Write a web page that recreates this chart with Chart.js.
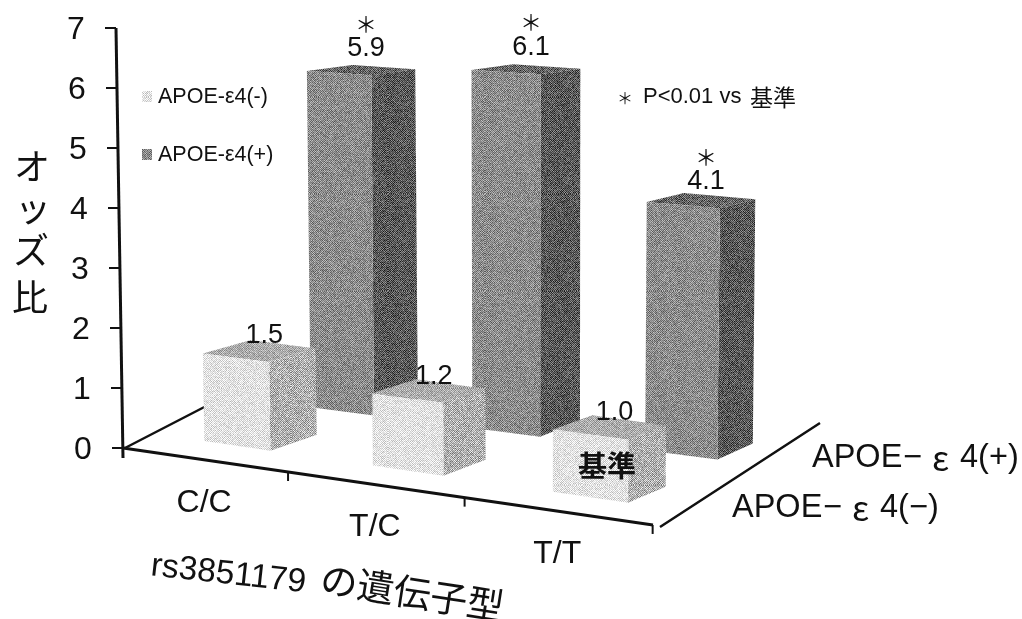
<!DOCTYPE html>
<html>
<head>
<meta charset="utf-8">
<title>rs3851179</title>
<style>
  html, body { margin: 0; padding: 0; background: #fff; }
  canvas { display: block; }
</style>
<script src="https://cdn.jsdelivr.net/npm/chart.js@4"></script>
</head>
<body>
<canvas id="chart" width="1022" height="619"></canvas>
<script>
const categories = ['C/C', 'T/C', 'T/T'];
const negValues = [1.5, 1.2, 1.0];
const posValues = [5.9, 6.1, 4.1];
const negStars = [false, false, false];
const posStars = [true, true, true];
const negLabel = 'APOE-ε4(-)';
const posLabel = 'APOE-ε4(+)';
const yTitle = ['オ', 'ッ', 'ズ', '比'];

const SANS = '"Liberation Sans", Arial, sans-serif';
const JP = '"Noto Sans CJK JP", sans-serif';

// speckled fill, close to the halftone of the scan
function speckle(ctx, base, amp) {
  const c = document.createElement('canvas');
  c.width = c.height = 97;
  const g = c.getContext('2d');
  const img = g.createImageData(97, 97);
  for (let y = 0; y < 97; y++) {
    for (let x = 0; x < 97; x++) {
      const h = Math.sin(x * 12.9898 + y * 78.233) * 43758.5453;
      const n = h - Math.floor(h);
      const v = base + ((x + y) % 2 ? -amp / 2 : amp / 2) + (n - 0.5) * amp;
      const i = (y * 97 + x) * 4;
      img.data[i] = img.data[i + 1] = img.data[i + 2] = Math.max(0, Math.min(255, v));
      img.data[i + 3] = 255;
    }
  }
  g.putImageData(img, 0, 0);
  return ctx.createPattern(c, 'repeat');
}

// the floor is in perspective: ticks get wider to the right
function warpX(px, area) {
  const t = (px - area.left) / area.width * 3;
  return area.left + 159.3 * t + 5.75 * t * t;
}
function axisY(sx, area) {
  return area.bottom + (sx - area.left) * 0.1453;
}
function floorPoint(sx, row, area) {
  if (row === 0) {
    const fx = sx + 33;
    return { x: fx, y: axisY(fx, area) - 18.7 };
  }
  const x = sx + 138 - (sx - 204) * 0.04;
  return { x: x, y: axisY(x, area) - 68 - (x - 314) * 0.017 };
}

function quad(ctx, pts, fill) {
  ctx.beginPath();
  pts.forEach((p, i) => i ? ctx.lineTo(p.x, p.y) : ctx.moveTo(p.x, p.y));
  ctx.closePath();
  ctx.fillStyle = fill;
  ctx.fill();
}

function text(ctx, str, x, y, font, align) {
  ctx.font = font;
  ctx.textAlign = align || 'center';
  ctx.textBaseline = 'middle';
  ctx.fillStyle = '#111';
  ctx.fillText(str, x, y);
}

// the big series names, the epsilon is wider than in the Latin font
function seriesName(ctx, x, y, tail) {
  text(ctx, 'APOE', x, y, '32.5px ' + SANS, 'left');
  text(ctx, '−', x + 91, y, '32.5px ' + SANS, 'left');
  text(ctx, 'ε', x + 120, y, '34px ' + JP, 'left');
  text(ctx, tail, x + 148, y, '32.5px ' + SANS, 'left');
}

const bars3d = {
  id: 'bars3d',
  afterDatasetsDraw(chart) {
    const ctx = chart.ctx;
    const area = chart.chartArea;
    const yScale = chart.scales.y;
    const xScale = chart.scales.x;
    const fills = [
      { front: speckle(ctx, 226, 44), side: speckle(ctx, 176, 70), top: speckle(ctx, 172, 50) },
      { front: speckle(ctx, 140, 60), side: speckle(ctx, 88, 70), top: speckle(ctx, 100, 70) }
    ];
    const labels = [];

    ctx.save();
    // floor lines behind the bars
    ctx.strokeStyle = '#111';
    ctx.lineWidth = 2.5;
    ctx.beginPath();
    ctx.moveTo(area.left + 2, area.bottom);
    ctx.lineTo(305, 355);
    ctx.moveTo(660, 527);
    ctx.lineTo(820, 423);
    ctx.stroke();

    // back row first, then the front row on top of it
    [1, 0].forEach(row => {
      chart.getDatasetMeta(row).data.forEach((el, i) => {
        const h = el.base - el.y;
        const x0 = warpX(el.x - el.width / 2, area);
        const x1 = warpX(el.x + el.width / 2, area);
        const v = row ? 0.6 : 0.15;
        const corner = sx => {
          const p = floorPoint(sx, row, area);
          const u = (p.x - area.left) / area.width;
          const up = h * (58.5 + 5.6 * u - 5.8 * v) / 60;
          const lean = h / 60 * (1.6 * u - 1.2);
          const dx = 50 - 13 * u;
          return {
            b: p,
            t: { x: p.x + lean, y: p.y - up },
            bb: { x: p.x + dx, y: p.y - 16 },
            tb: { x: p.x + lean + dx, y: p.y - up - 16 + 1.7 * h / 60 }
          };
        };
        const l = corner(x0);
        const r = corner(x1);
        quad(ctx, [l.t, r.t, r.tb, l.tb], fills[row].top);
        quad(ctx, [r.b, r.bb, r.tb, r.t], fills[row].side);
        quad(ctx, [l.b, r.b, r.t, l.t], fills[row].front);
        labels.push({
          x: (l.t.x + r.tb.x) / 2 + 5,
          y: (l.t.y + r.tb.y) / 2 - 13 - 1.5 * h / 60,
          value: chart.data.datasets[row].data[i].toFixed(1),
          star: chart.data.datasets[row].stars[i]
        });
      });
    });

    labels.forEach(a => {
      text(ctx, a.value, a.x, a.y, '27px ' + SANS);
      if (a.star) text(ctx, '＊', a.x, a.y - 25, '22px ' + JP);
    });

    // y axis, slightly tilted
    const tiltX = y => area.left - (area.bottom - y) * 7 / 420;
    ctx.lineWidth = 3;
    ctx.beginPath();
    ctx.moveTo(tiltX(yScale.top), yScale.top);
    ctx.lineTo(tiltX(yScale.bottom), yScale.bottom + 10);
    ctx.stroke();
    ctx.lineWidth = 2;
    yScale.ticks.forEach(tick => {
      const y = yScale.getPixelForValue(tick.value);
      const x = tiltX(y);
      ctx.beginPath();
      ctx.moveTo(x - 11, y);
      ctx.lineTo(x, y);
      ctx.stroke();
      text(ctx, String(tick.value), x - 40, y + 2, '32px ' + SANS);
    });

    // x axis
    ctx.lineWidth = 3;
    ctx.beginPath();
    ctx.moveTo(area.left, area.bottom);
    ctx.lineTo(653, axisY(653, area));
    ctx.stroke();
    ctx.lineWidth = 2;
    categories.forEach((c, i) => {
      const edge = warpX(xScale.getPixelForValue(i) + area.width / 6, area);
      const y = axisY(edge, area);
      ctx.beginPath();
      ctx.moveTo(edge, y);
      ctx.lineTo(edge, y + 9);
      ctx.stroke();
      const mid = warpX(xScale.getPixelForValue(i), area);
      text(ctx, c, mid, axisY(mid, area) + 43, '32px ' + SANS);
    });

    // legend
    [[negLabel, 96, fills[0].front], [posLabel, 154, fills[1].front]].forEach(([s, y, f]) => {
      ctx.fillStyle = f;
      ctx.fillRect(142, y - 5, 10, 11);
      text(ctx, s, 158, y + 1, '21.5px ' + SANS, 'left');
    });

    // notes
    text(ctx, '＊', 625, 98, '16px ' + JP);
    text(ctx, 'P<0.01 vs', 643, 97, '22px ' + SANS, 'left');
    text(ctx, '基準', 750, 97, '23px ' + JP, 'left');
    text(ctx, '基準', 607, 466, 'bold 29px ' + JP);

    seriesName(ctx, 812, 458, '4(+)');
    seriesName(ctx, 732, 508, '4(−)');

    // axis titles
    [[32, 166], [33, 208], [31, 250], [30, 297]].forEach(([x, y], i) => text(ctx, yTitle[i], x, y, '36px ' + JP));
    ctx.save();
    ctx.translate(151, 566);
    ctx.rotate(0.11);
    text(ctx, 'rs3851179', 0, 0, '33.5px ' + SANS, 'left');
    ctx.restore();
    ctx.save();
    ctx.translate(321, 578);
    ctx.rotate(0.155);
    text(ctx, 'の遺伝子型', 0, 0, '37px ' + JP, 'left');
    ctx.restore();
    ctx.restore();
  }
};

new Chart(document.getElementById('chart'), {
  type: 'bar',
  data: {
    labels: categories,
    datasets: [
      { label: negLabel, data: negValues, stars: negStars, backgroundColor: 'rgba(0,0,0,0)', barPercentage: 0.4 },
      { label: posLabel, data: posValues, stars: posStars, backgroundColor: 'rgba(0,0,0,0)', barPercentage: 0.4 }
    ]
  },
  options: {
    responsive: false,
    animation: false,
    layout: { padding: { left: 123, top: 28, right: 369, bottom: 171 } },
    plugins: { legend: { display: false }, tooltip: { enabled: false } },
    datasets: { bar: { grouped: false, categoryPercentage: 1 } },
    scales: {
      x: { display: false },
      y: { display: false, min: 0, max: 7, ticks: { stepSize: 1 } }
    }
  },
  plugins: [bars3d]
});
</script>
</body>
</html>
